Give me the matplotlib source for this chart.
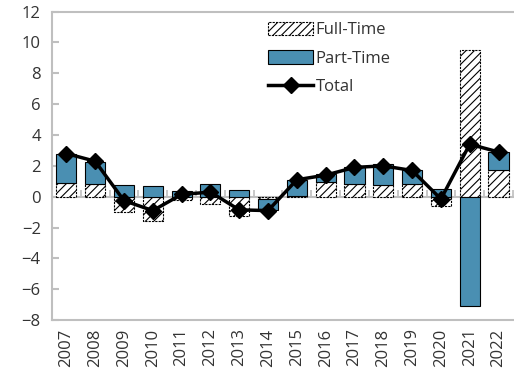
import numpy as np
import matplotlib
matplotlib.use('Agg')
import matplotlib.pyplot as plt

# Data
years = ['2007', '2008', '2009', '2010', '2011', '2012', '2013', '2014',
         '2015', '2016', '2017', '2018', '2019', '2020', '2021', '2022']
full_time = [0.9, 0.85, -1.0, -1.55, -0.2, -0.45, -1.25, -0.15,
             0.05, 0.95, 0.8, 0.75, 0.8, -0.6, 9.5, 1.7]
part_time = [1.9, 1.4, 0.75, 0.72, 0.35, 0.8, 0.45, -0.7,
             1.05, 0.5, 1.15, 1.35, 0.95, 0.5, -7.1, 1.2]
total = [2.8, 2.3, -0.25, -0.9, 0.15, 0.3, -0.85, -0.9,
         1.1, 1.4, 1.9, 2.0, 1.7, -0.15, 3.4, 2.9]

BLUE = '#4A8FB2'
GREY = '#BFBFBF'
TEXT = '#333333'

plt.rcParams['font.family'] = ['Open Sans', 'DejaVu Sans']
plt.rcParams['font.size'] = 12
plt.rcParams['hatch.linewidth'] = 0.8

fig = plt.figure(figsize=(5.14, 3.74), dpi=100)
ax = fig.add_axes([0.101, 0.144, 0.897, 0.825])

x = np.arange(len(years))
ft = np.array(full_time)
pt = np.array(part_time)
# stack like a spreadsheet: positives on positives, negatives on negatives
pt_bottom = np.where(np.sign(pt) == np.sign(ft), ft, 0.0)

b1 = ax.bar(x, ft, width=0.7, color='white', hatch='////', edgecolor='black',
            linewidth=0.8, linestyle=(0, (2, 1)), label='Full-Time', zorder=2)
b2 = ax.bar(x, pt, width=0.7, bottom=pt_bottom, color=BLUE, edgecolor='black',
            linewidth=0.8, label='Part-Time', zorder=2)
l1, = ax.plot(x, total, color='black', linewidth=2.5, marker='D', markersize=8,
              label='Total', zorder=4)

ax.set_xlim(-0.5, len(years) - 0.5)
ax.set_ylim(-8, 12)
ax.set_yticks(np.arange(-8, 13, 2))
ax.set_xticks(x)
ax.set_xticklabels(years, rotation=90)

ax.tick_params(axis='y', direction='in', length=5, width=1.5, color=GREY,
               labelcolor=TEXT, pad=8)
ax.tick_params(axis='x', length=0, labelcolor=TEXT, pad=6)

for side in ['left', 'top', 'bottom']:
    ax.spines[side].set_color(GREY)
    ax.spines[side].set_linewidth(1.5)
ax.spines['right'].set_visible(False)

# zero line with small ticks between categories
zero = ax.secondary_xaxis(8 / 20)
zero.set_xticks(np.arange(len(years) + 1) - 0.5)
zero.tick_params(direction='in', length=5, width=1.2, color=GREY,
                 labelbottom=False)
zero.spines['bottom'].set_color(GREY)
zero.spines['bottom'].set_linewidth(1.5)
zero.set_zorder(1)

leg = ax.legend([b1, b2, l1], ['Full-Time', 'Part-Time', 'Total'],
                loc='upper left', bbox_to_anchor=(0.447, 1.0), frameon=False,
                handlelength=2.7, handleheight=0.9, labelspacing=0.7,
                handletextpad=0.15, borderaxespad=0.2)
for t in leg.get_texts():
    t.set_color(TEXT)

fig.savefig('out.png', dpi=100)
